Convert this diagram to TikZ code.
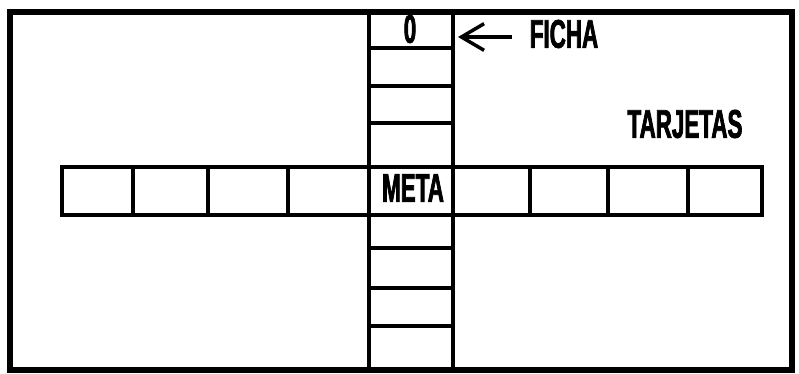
\documentclass[tikz,border=0pt]{standalone}
\usepackage{fontspec}
\newfontfamily\boardfont[FakeStretch=0.56,FakeBold=1.8]{Liberation Sans Bold}
\usetikzlibrary{arrows.meta}
\tikzset{
  label text/.style={font=\boardfont\fontsize{30}{30}\selectfont, inner sep=0pt},
  cell line/.style={line width=2.6pt},
}

\begin{document}
\begin{tikzpicture}[x=0.75pt,y=-0.75pt]
\useasboundingbox (0,0) rectangle (799,374);
\draw[line width=4.2pt] (10,12) rectangle (792,370);
% columna
\draw[cell line] (369,12) -- (369,370);
\draw[cell line] (453,12) -- (453,370);
\foreach \yy in {48,86,123,248,288,326}
  \draw[cell line] (369,\yy) -- (453,\yy);
% fila
\draw[cell line] (62,167) rectangle (762,215);
\foreach \xx in {133,208,288,530,608,688}
  \draw[cell line] (\xx,167) -- (\xx,215);
\node[label text] (ficha0) at (410,29) {0};
\node[label text] (meta) at (413,188) {META};
\node[label text] (ficha) at (564,34) {FICHA};
\node[label text] (tarjetas) at (685,124) {TARJETAS};
\coordinate (punta) at (458,37);
\draw[line width=2.6pt,-{Straight Barb[length=17pt,width=20pt]}] (ficha.west|-punta) ++(-18,0) -- (punta);
\end{tikzpicture}
\end{document}
